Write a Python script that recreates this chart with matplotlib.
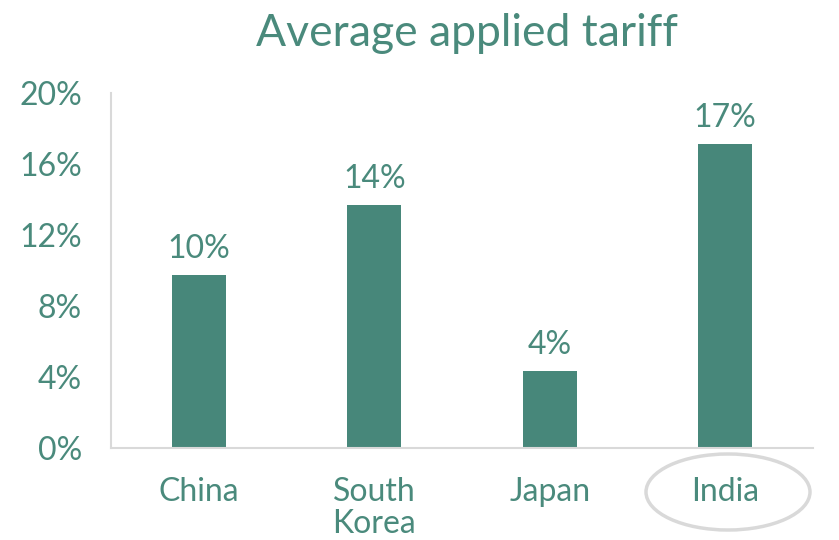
import matplotlib
matplotlib.use("Agg")
import matplotlib.pyplot as plt
from matplotlib.patches import Ellipse

categories = ["China", "South\nKorea", "Japan", "India"]
values = [9.75, 13.7, 4.35, 17.1]
labels = ["10%", "14%", "4%", "17%"]
yticks = [0, 4, 8, 12, 16, 20]
ytick_labels = ["0%", "4%", "8%", "12%", "16%", "20%"]

bar_color = "#47877A"
text_color = "#4A8A7C"
grey = "#D9D9D9"

plt.rcParams['font.family'] = ['Lato', 'DejaVu Sans']

fig = plt.figure(figsize=(8.39, 5.40), dpi=100)
ax = fig.add_axes([111/839, 1-448/540, (813-111)/839, (448-93)/540])

x = list(range(len(categories)))
bars = ax.bar(x, values, width=0.31, color=bar_color)
for xi, v, lab in zip(x, values, labels):
    ax.annotate(lab, (xi, v), xytext=(0, 8), textcoords="offset points",
                ha="center", va="bottom", fontsize=23, color=text_color)

ax.set_xlim(-0.5, 3.5)
ax.set_ylim(0, 20)
ax.set_yticks(yticks)
ax.set_yticklabels(ytick_labels)
ax.set_xticks(x)
ax.set_xticklabels(categories, linespacing=1.08)
ax.tick_params(axis="y", length=0, pad=21, labelsize=23, labelcolor=text_color)
ax.tick_params(axis="x", length=0, pad=21, labelsize=23, labelcolor=text_color)
for s in ["top", "right"]:
    ax.spines[s].set_visible(False)
for s in ["left", "bottom"]:
    ax.spines[s].set_color(grey)
    ax.spines[s].set_linewidth(1.5)

fig.text(467/839, 1-33/540, "Average applied tariff", ha="center", va="center",
         fontsize=32, color=text_color)

ell = Ellipse((728/839, 1-492/540), 164/839, 76/540, transform=fig.transFigure,
              fill=False, edgecolor=grey, linewidth=2.5)
fig.patches.append(ell)

fig.savefig("out.png", dpi=100)
